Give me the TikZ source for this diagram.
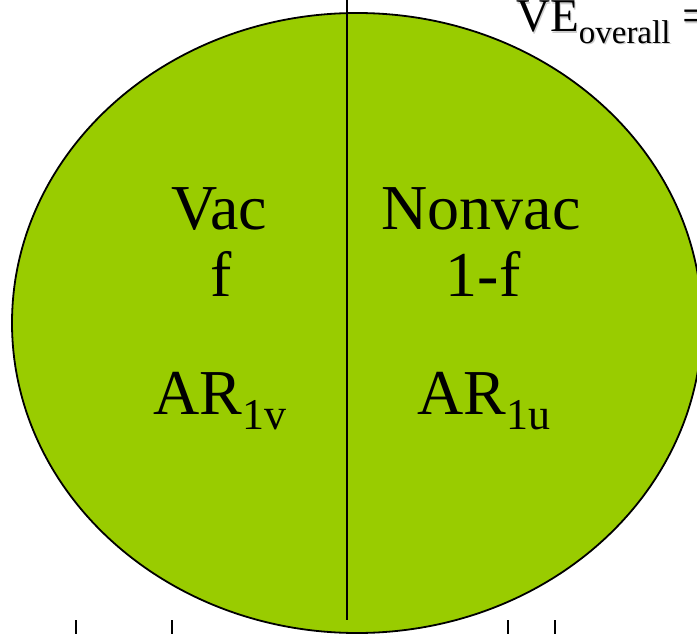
\documentclass[tikz,border=0pt]{standalone}
\usepackage{fontspec}
\setmainfont{Liberation Serif}
\definecolor{leaf}{RGB}{153,204,0}
\newcommand\subtxt[1]{\raisebox{-0.24em}{\fontsize{44}{44}\selectfont #1}}
\begin{document}
\begin{tikzpicture}[x=1pt,y=-1pt,
  lbl/.style={font=\fontsize{64}{64}\selectfont, inner sep=0pt, anchor=base},
  tick/.style={line width=1.2pt}]
\useasboundingbox (0,0) rectangle (697,634);
\fill[white] (0,0) rectangle (697,634);
\draw[fill=leaf, line width=1.8pt] (357,323) ellipse [x radius=345, y radius=310];
\coordinate (lt) at (347,0);
\coordinate (lb) at (347,620);
\draw[line width=1.6pt] (lt) -- (lb);
\node[lbl] (vac) at (219,229) {Vac};
\node[lbl] (f) at (221,296) {f};
\node[lbl] (arv) at (220,414) {AR\subtxt{1v}};
\node[lbl] (non) at (481,229) {Nonvac};
\node[lbl] (omf) at (483,296) {1-f};
\node[lbl] (aru) at (484,414) {AR\subtxt{1u}};
\node[font=\fontsize{47}{47}\selectfont, inner sep=0pt, anchor=base west, text=black!20] at (517.5,33.5) {VE\subtxt{\fontsize{33}{33}\selectfont overall} =};
\node[font=\fontsize{47}{47}\selectfont, inner sep=0pt, anchor=base west] (ve) at (516,32) {VE\subtxt{\fontsize{33}{33}\selectfont overall} =};
\foreach \x/\n in {76/a,172/b,508/c,555/d}{
  \coordinate (t\n1) at (\x,620);
  \coordinate (t\n2) at (\x,634);
  \draw[tick] (t\n1) -- (t\n2);
}
\end{tikzpicture}
\end{document}
